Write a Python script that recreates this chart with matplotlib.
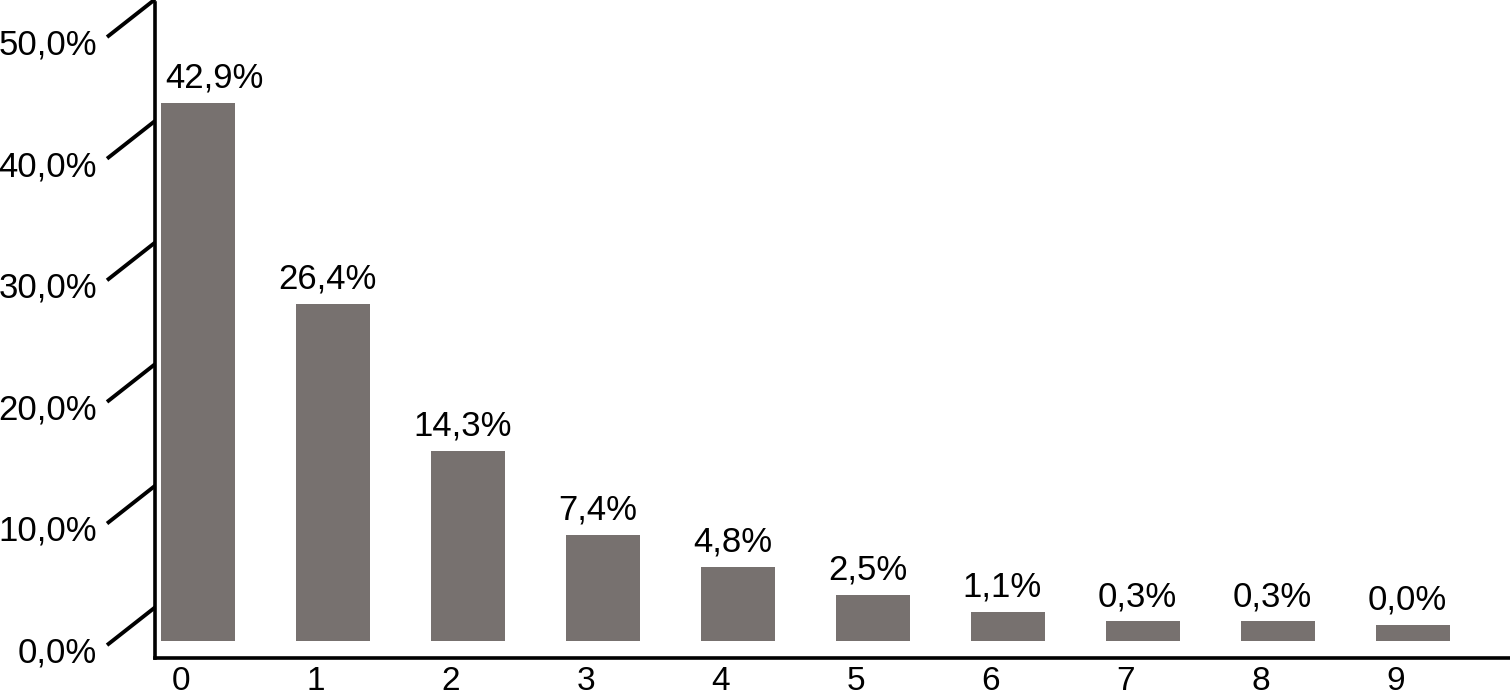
import matplotlib.pyplot as plt
import numpy as np
from matplotlib.transforms import blended_transform_factory, ScaledTranslation

# data
categories = ["0", "1", "2", "3", "4", "5", "6", "7", "8", "9"]
shares = [42.9, 26.4, 14.3, 7.4, 4.8, 2.5, 1.1, 0.3, 0.3, 0.0]
y_ticks = [0, 10, 20, 30, 40, 50]

plt.rcParams["font.family"] = ["Liberation Sans", "DejaVu Sans"]

def pct(v):
    return f"{v:.1f}".replace(".", ",") + "%"

fig = plt.figure(figsize=(15.1, 6.97), dpi=100)
ax = fig.add_axes([155 / 1510, 39 / 697, 1355 / 1510, 655 / 697])

floor = 1.3   # the pseudo-3d floor the bars stand on
depth = 1.45  # half height of the slanted gridline ticks

x = np.arange(len(categories))
vals = np.array(shares)
bars = ax.bar(x, vals + floor, bottom=-floor, width=0.55, color="#77716f")

for xi, v in zip(x, vals):
    dx = 12 if xi == 0 else -4
    ax.annotate(pct(v), (xi, v), xytext=(dx, 6), textcoords="offset points",
                ha="center", va="bottom", fontsize=25)

ax.set_xlim(-0.32, 9.72)
ax.set_ylim(-2.71, 51.15)

# slanted y ticks and labels
tr = blended_transform_factory(ax.transAxes, ax.transData)
for v in y_ticks:
    ax.plot([-0.0354, 0], [v - depth - 0.2, v + depth], color="black", lw=2.8,
            transform=tr, clip_on=False, solid_capstyle="butt")
    ax.text(-0.0428, v - 2.3, pct(v), transform=tr, ha="right", va="center",
            fontsize=25)

ax.set_yticks([])
ax.set_xticks(x)
ax.set_xticklabels(categories, fontsize=24)
ax.tick_params(axis="x", length=0, pad=6)
for lab in ax.get_xticklabels():
    lab.set_transform(lab.get_transform() + ScaledTranslation(-0.17, 0, fig.dpi_scale_trans))

for s in ["top", "right"]:
    ax.spines[s].set_visible(False)
ax.spines["left"].set_linewidth(2.6)
ax.spines["bottom"].set_linewidth(2.6)

plt.savefig("out.png", dpi=100)
